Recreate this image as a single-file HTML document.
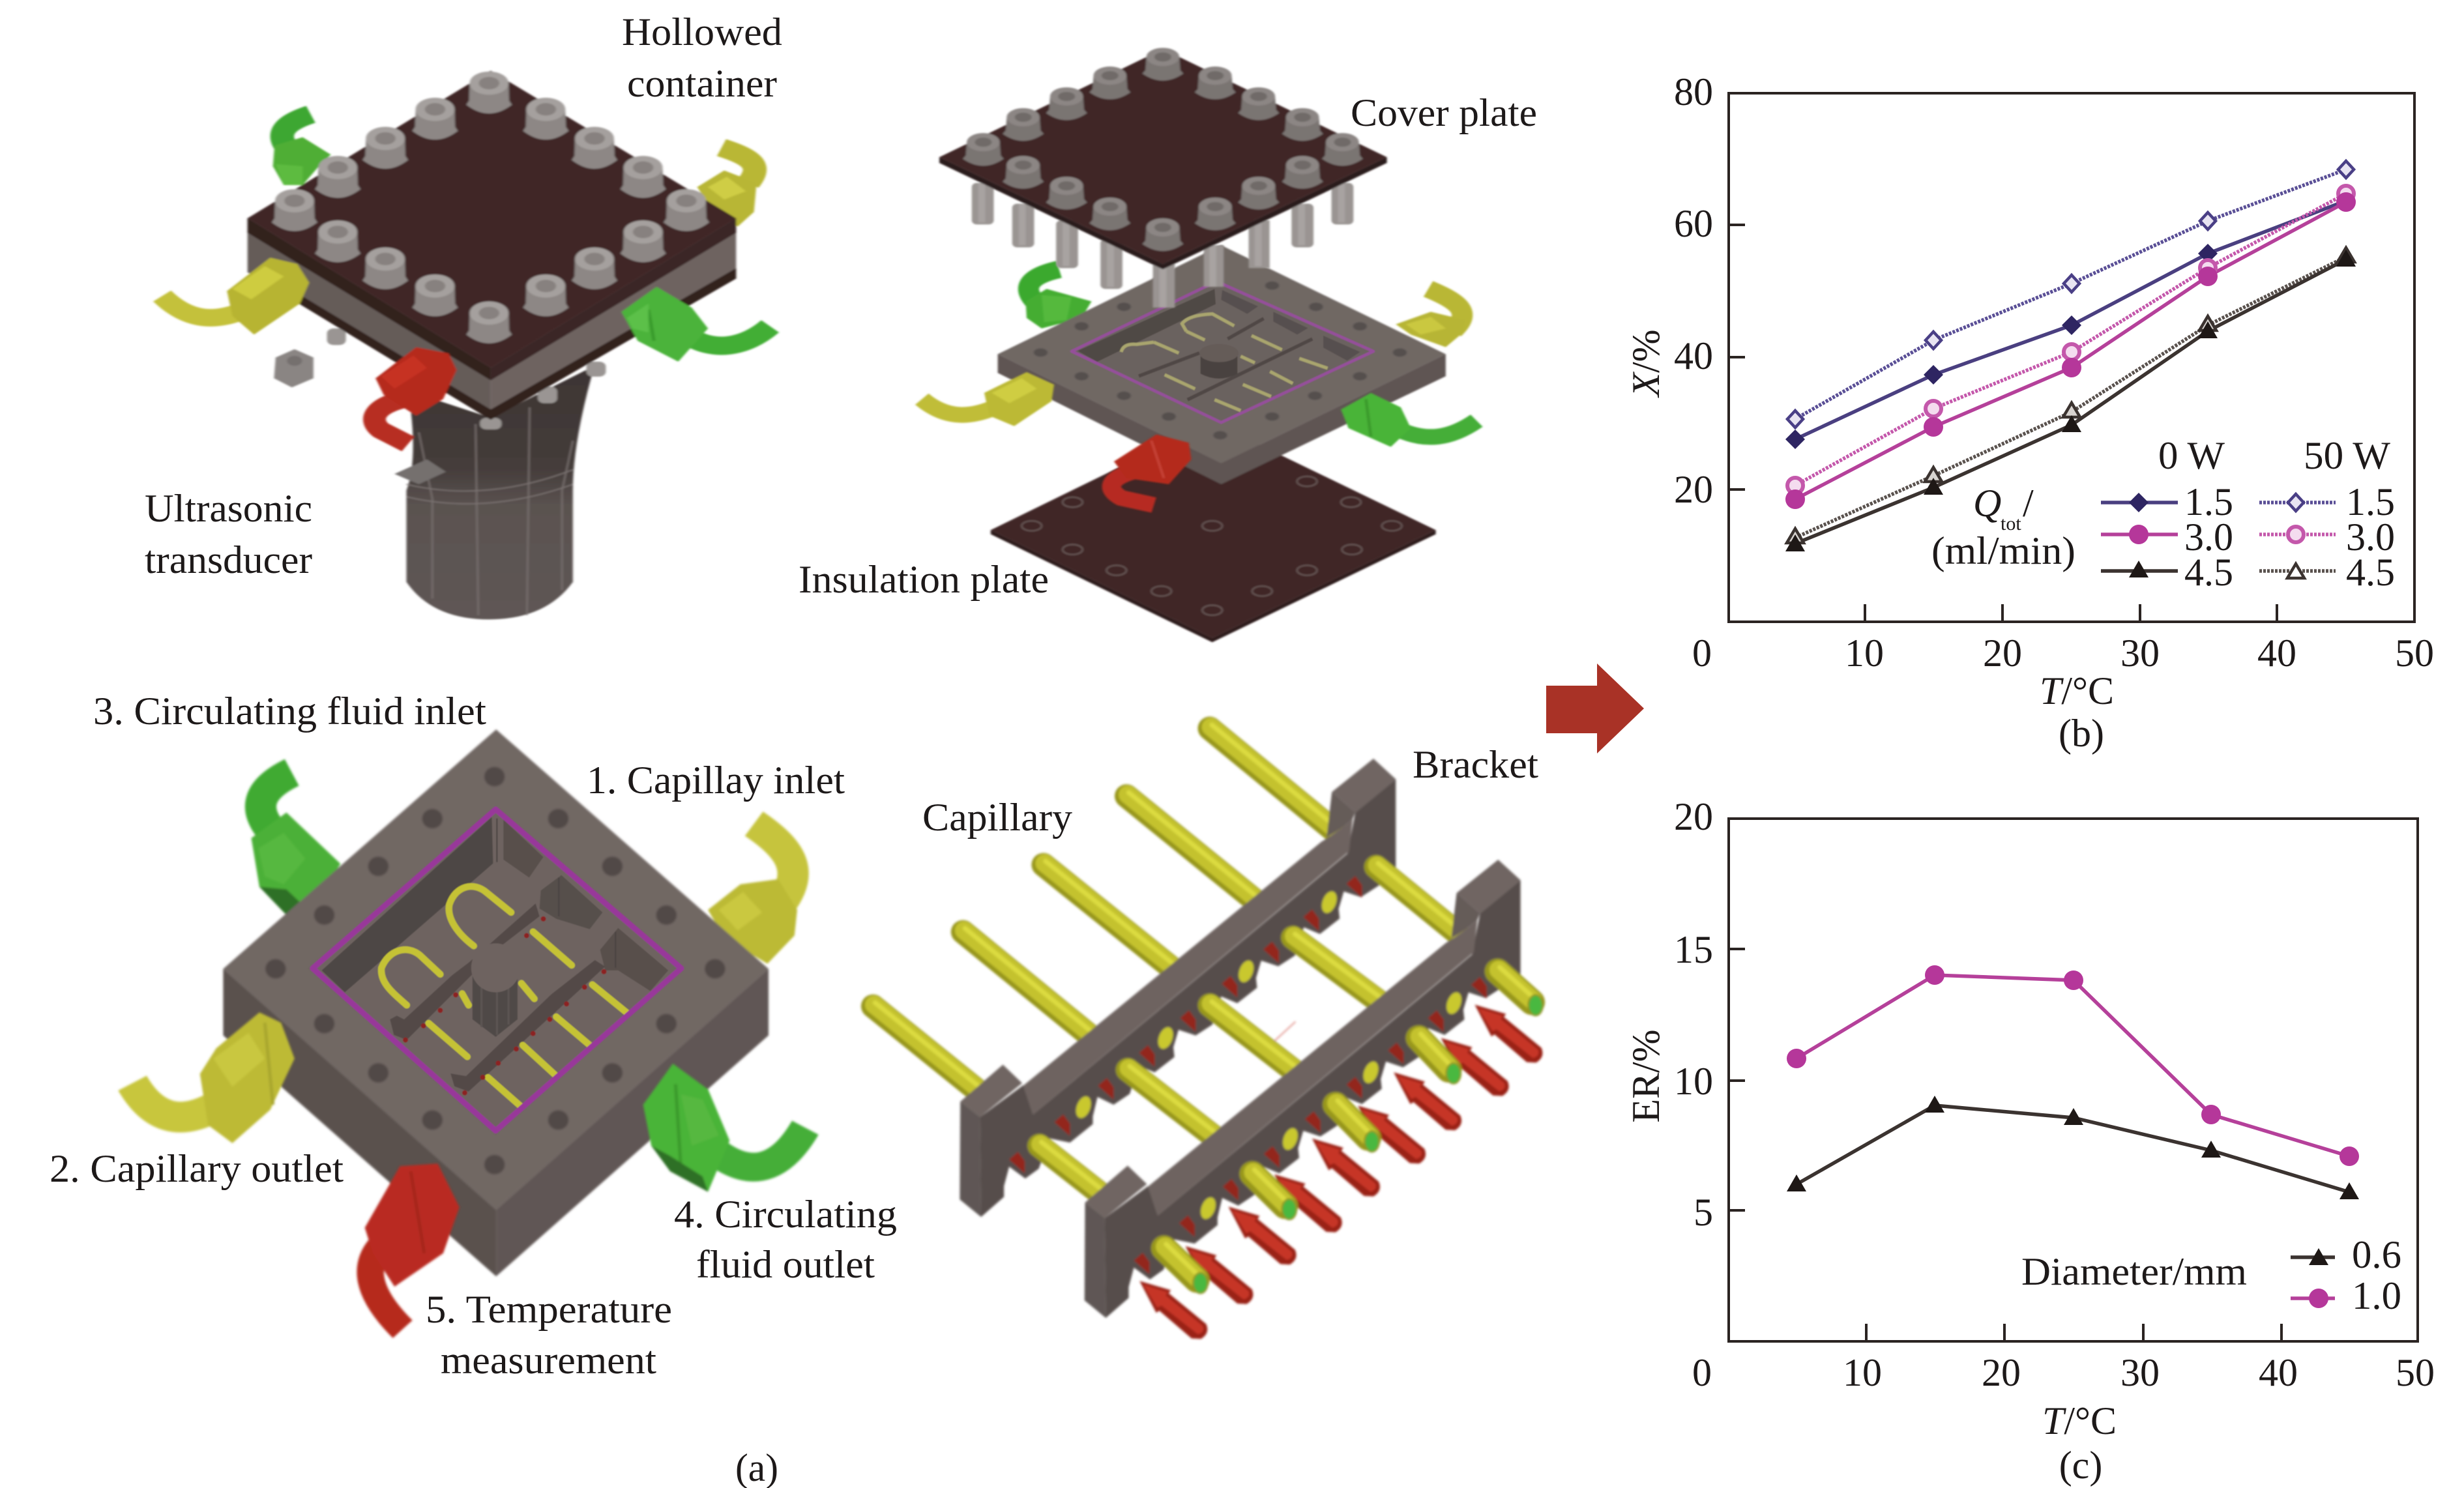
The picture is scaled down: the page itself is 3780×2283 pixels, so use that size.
<!DOCTYPE html>
<html><head><meta charset="utf-8"><style>
html,body{margin:0;padding:0;background:#fff}
svg{display:block}
text{font-family:"Liberation Serif","DejaVu Serif",serif;font-size:60px;fill:#1d1919}
.i{font-style:italic}
</style></head><body>
<svg xmlns="http://www.w3.org/2000/svg" width="3780" height="2283" viewBox="0 0 3780 2283">
<defs>
<filter id="b" x="-5%" y="-5%" width="110%" height="110%"><feGaussianBlur stdDeviation="2.2"/></filter>
<linearGradient id="tg" x1="0" y1="0" x2="0" y2="1"><stop offset="0" stop-color="#3d3533"/><stop offset=".4" stop-color="#443c3a"/><stop offset=".55" stop-color="#5a5250"/><stop offset="1" stop-color="#5e5654"/></linearGradient>
<g id="bolt"><path d="M-36,-22 L-37,20 L-42,30 Q0,72 42,30 L37,20 L36,-22Z" fill="#8d8785"/><ellipse cx="0" cy="-22" rx="36" ry="28" fill="#a5a09e"/><ellipse cx="0" cy="-22" rx="19" ry="15" fill="#87817f"/></g>
<g id="bolt2"><path d="M-33,-18 L-35,14 L-41,22 Q0,56 41,22 L35,14 L33,-18Z" fill="#7a7472"/><ellipse cx="0" cy="-18" rx="33" ry="22" fill="#8c8684"/><ellipse cx="0" cy="-18" rx="17" ry="11" fill="#6f6a68"/></g>
<g id="arr"><path d="M0,0 L60,18 L56,24 L128,84 Q136,102 118,113 L100,112 L38,58 L32,62 Z" fill="#9a2318"/><path d="M7,7 L54,22 L50,28 L122,88 Q126,100 112,104 L42,48 L34,52 Z" fill="#c63426"/></g>
<g id="bar">
<path d="M401,782 L420,839 L1025,330 L1040,250 L1118,185 L1118,370 L1083,394 L1051,415 L1018,404 L1008,438 L1010,457 L972,487 L941,474 L924,529 L892,550 L859,539 L849,573 L851,592 L813,622 L782,609 L765,664 L733,685 L700,674 L690,708 L692,727 L654,757 L623,744 L606,799 L575,820 L544,805 L535,843 L535,858 L491,894 L452,886 L431,945 L405,964 L374,941 L364,979 L364,1000 L320,1039 L318,844 Z" fill="#564e4b"/>
<path d="M280,814 L318,844 L320,1039 L279,1005Z" fill="#5f5754"/>
<path d="M280,814 L362,742 L399,778 L318,844Z" fill="#6f6562"/>
<path d="M401,783 L975,307 Q1010,285 1035,262 L1028,326 L420,839Z" fill="#6e6461"/>
<path d="M995,210 L1075,145 L1118,185 L1040,250Z" fill="#6f6562"/>
<path d="M995,210 L1040,250 L1035,262 Q1010,285 985,298Z" fill="#655c59"/>
<path d="M374,927 l17,-15 l13,18 l0,24z M461,854 l17,-15 l13,18 l0,24z M545,783 l17,-15 l13,18 l0,24z M624,719 l17,-15 l13,18 l0,24z M703,651 l17,-15 l13,18 l0,24z M783,584 l17,-15 l13,18 l0,24z M863,517 l17,-15 l13,18 l0,24z M940,454 l17,-15 l13,18 l0,24z M1023,389 l17,-15 l13,18 l0,24z" fill="#93261c"/>
<g fill="#c9c82f"><ellipse cx="517" cy="825" rx="13" ry="22" transform="rotate(20 517 825)"/><ellipse cx="675" cy="690" rx="13" ry="22" transform="rotate(20 675 690)"/><ellipse cx="830" cy="560" rx="13" ry="22" transform="rotate(20 830 560)"/><ellipse cx="990" cy="425" rx="13" ry="22" transform="rotate(20 990 425)"/></g>
</g>
</defs>

<!-- TOP LEFT ASSEMBLY -->
<g transform="scale(.8291,.6378)" filter="url(#b)">
<path d="M755,940 Q775,1100 752,1180 L752,1400 Q800,1490 905,1490 Q1010,1490 1060,1400 L1060,1180 Q1060,1060 1100,880 L908,1005Z" fill="url(#tg)"/>
<g stroke="#7d7573" stroke-width="2.5" fill="none"><path d="M775,1040 L800,1200 L800,1440"/><path d="M880,1020 L885,1480"/><path d="M980,980 L975,1480"/><path d="M1060,1060 L1040,1180 L1040,1420"/><path d="M752,1165 Q900,1210 1060,1130"/><path d="M752,1195 Q900,1240 1060,1165"/></g>
<path d="M730,1140 L790,1105 L825,1135 L775,1165Z" fill="#75706e"/>
<g fill="#9a9593"><rect x="605" y="790" width="35" height="40" rx="12"/><rect x="888" y="1005" width="40" height="28" rx="12"/><rect x="995" y="930" width="36" height="40" rx="12"/><rect x="1085" y="870" width="36" height="36" rx="12"/></g>
<path d="M510,860 L545,840 L580,860 L580,910 L540,932 L507,910Z" fill="#8a8583"/><ellipse cx="545" cy="868" rx="14" ry="12" fill="#75706e"/>
<!-- back fittings -->
<path d="M575,275 C515,300 510,330 540,370" stroke="#3ea732" stroke-width="44" fill="none"/>
<path d="M508,350 L560,330 L612,372 L590,400 L560,445 L525,445 L505,400Z" fill="#4fae35"/><path d="M510,395 L560,400 L560,445 L525,445Z" fill="#5dbb40"/>
<path d="M1335,355 C1395,380 1410,400 1385,440" stroke="#b9b735" stroke-width="44" fill="none"/>
<path d="M1290,450 L1340,410 L1400,440 L1395,510 L1365,545 L1310,490Z" fill="#b8b634"/><path d="M1310,450 L1345,425 L1380,460 L1340,480Z" fill="#cfcd44"/>
<!-- plate -->
<path d="M458,525 L908,885 L908,1010 L458,655Z" fill="#655b58"/>
<path d="M1362,525 L908,885 L908,1010 L1362,670Z" fill="#6e6461"/>
<path d="M458,525 L908,885 L908,915 L458,560Z" fill="#33201f"/>
<path d="M1362,525 L908,885 L908,915 L1362,560Z" fill="#3b2526"/>
<path d="M550,728 L908,1010 L1362,670 L1362,645 L908,985 L550,705Z" fill="#33201f"/>
<path d="M458,525 L908,170 L1362,525 L908,885Z" fill="#3f2628"/>
<use href="#bolt" x="905" y="222"/><use href="#bolt" x="805" y="285"/><use href="#bolt" x="1010" y="285"/><use href="#bolt" x="713" y="355"/><use href="#bolt" x="1100" y="355"/><use href="#bolt" x="625" y="425"/><use href="#bolt" x="1190" y="425"/><use href="#bolt" x="545" y="505"/><use href="#bolt" x="1270" y="505"/><use href="#bolt" x="625" y="580"/><use href="#bolt" x="1190" y="580"/><use href="#bolt" x="713" y="645"/><use href="#bolt" x="1100" y="645"/><use href="#bolt" x="805" y="710"/><use href="#bolt" x="1010" y="710"/><use href="#bolt" x="905" y="775"/>
<!-- front fittings -->
<path d="M300,712 C350,775 400,775 455,745" stroke="#c4c13a" stroke-width="42" fill="none"/>
<path d="M420,700 L500,620 L550,635 L572,680 L555,730 L470,805 L430,760Z" fill="#b7b432"/><path d="M430,695 L490,640 L525,665 L465,720Z" fill="#cecc3f"/>
<path d="M1270,805 C1320,850 1380,835 1425,785" stroke="#43ae36" stroke-width="44" fill="none"/>
<path d="M1150,750 L1215,690 L1280,740 L1310,790 L1255,870 L1180,820Z" fill="#4bb33a"/><path d="M1200,745 L1210,820" stroke="#399a2c" stroke-width="6"/><path d="M1160,765 L1200,730 L1200,800 L1170,790Z" fill="#5cc048"/>
<path d="M770,955 C690,970 680,1010 705,1035 L755,1068" stroke="#b72d20" stroke-width="42" fill="none"/>
<path d="M695,910 L770,835 L830,850 L845,890 L820,960 L770,1000 L710,950Z" fill="#b5291e"/><path d="M705,905 L765,855 L790,885 L730,935Z" fill="#c63024"/>
</g>

<!-- TOP RIGHT EXPLODED -->
<g transform="translate(1200,0) scale(.7653,.6378)" filter="url(#b)">
<path d="M418,1275 L862,1015 L1310,1275 L862,1535Z" fill="#3f2628"/>
<path d="M418,1275 L862,1535 L1310,1275 L1310,1285 L862,1545 L418,1285Z" fill="#2e1c1c"/>
<g fill="none" stroke="#6b5a58" stroke-width="3"><ellipse cx="1052" cy="1158" rx="20" ry="12"/><ellipse cx="1140" cy="1208" rx="20" ry="12"/><ellipse cx="1222" cy="1265" rx="20" ry="12"/><ellipse cx="1142" cy="1322" rx="20" ry="12"/><ellipse cx="1052" cy="1372" rx="20" ry="12"/><ellipse cx="962" cy="1422" rx="20" ry="12"/><ellipse cx="862" cy="1468" rx="20" ry="12"/><ellipse cx="760" cy="1422" rx="20" ry="12"/><ellipse cx="670" cy="1372" rx="20" ry="12"/><ellipse cx="582" cy="1322" rx="20" ry="12"/><ellipse cx="500" cy="1265" rx="20" ry="12"/><ellipse cx="582" cy="1208" rx="20" ry="12"/><ellipse cx="862" cy="1265" rx="20" ry="12"/></g>
<path d="M555,648 C490,665 480,695 510,730" stroke="#3ba92f" stroke-width="42" fill="none"/>
<path d="M488,725 L530,695 L620,725 L600,765 L520,790 L490,765Z" fill="#45ad33"/><path d="M520,710 L580,715 L570,770 L525,775Z" fill="#55b93c"/>
<path d="M1295,695 C1355,725 1385,750 1345,795" stroke="#b9b736" stroke-width="42" fill="none"/>
<path d="M1230,780 L1300,750 L1370,770 L1365,800 L1330,835 L1260,805Z" fill="#b7b536"/><path d="M1250,780 L1300,762 L1330,790 L1280,805Z" fill="#cac840"/>
<!-- block -->
<path d="M432,852 L880,1115 L880,1165 L432,897Z" fill="#5e5552"/>
<path d="M1330,852 L880,1115 L880,1165 L1330,905Z" fill="#5e5552"/>
<path d="M432,852 L880,590 L1330,852 L880,1115Z" fill="#706764"/>
<g fill="#55504d"><ellipse cx="685" cy="738" rx="14" ry="10"/><ellipse cx="600" cy="785" rx="14" ry="10"/><ellipse cx="518" cy="848" rx="14" ry="10"/><ellipse cx="600" cy="905" rx="14" ry="10"/><ellipse cx="685" cy="952" rx="14" ry="10"/><ellipse cx="775" cy="1002" rx="14" ry="10"/><ellipse cx="878" cy="1047" rx="14" ry="10"/><ellipse cx="982" cy="1002" rx="14" ry="10"/><ellipse cx="1068" cy="952" rx="14" ry="10"/><ellipse cx="1158" cy="905" rx="14" ry="10"/><ellipse cx="1238" cy="848" rx="14" ry="10"/><ellipse cx="1158" cy="785" rx="14" ry="10"/><ellipse cx="1070" cy="738" rx="14" ry="10"/><ellipse cx="982" cy="687" rx="14" ry="10"/></g>
</g>
<g transform="translate(1750,400) scale(.3333)" filter="url(#b)">
<path d="M-318,417 L348,95 L1071,417 L370,745Z" fill="#6b625f" stroke="#94509a" stroke-width="14" stroke-linejoin="round"/>
<path d="M-290,415 L340,130 L345,200 L-200,465Z" fill="#4f4845"/>
<g fill="#575050"><path d="M375,135 L540,210 L490,245 L370,180Z"/><path d="M610,235 L770,310 L720,340 L610,280Z"/><path d="M840,345 L1010,420 L950,460 L840,400Z"/></g>
<g stroke="#a9a56e" stroke-width="15" fill="none"><path d="M340,640 L460,690"/><path d="M470,570 L600,625"/><path d="M595,510 L700,565"/><path d="M730,450 L860,495"/><path d="M510,345 L650,410"/><path d="M460,440 L525,470"/><path d="M110,525 L250,590"/><path d="M60,375 L175,425"/><path d="M210,325 L295,365"/><path d="M430,300 L330,245 Q220,250 190,290 L210,325"/><path d="M-90,420 Q-80,380 -20,385 L60,375"/></g>
<g stroke="#4f4745" stroke-width="16" fill="none"><path d="M-9,531 L270,425"/><path d="M400,360 L566,266"/><path d="M215,640 L790,360"/></g>
<path d="M275,425 L275,520 Q360,565 445,520 L445,425Z" fill="#4a4240"/><ellipse cx="360" cy="425" rx="90" ry="42" fill="#655c59"/>
</g>
<g transform="translate(1200,0) scale(.7653,.6378)" filter="url(#b)">
<!-- fittings front -->
<path d="M280,960 C330,1010 380,1005 430,978" stroke="#c0bd38" stroke-width="38" fill="none"/>
<path d="M405,945 L490,895 L545,925 L540,965 L465,1025 L415,1000Z" fill="#bcb935"/><path d="M420,945 L480,910 L510,935 L455,970Z" fill="#cfcd42"/>
<path d="M1230,1030 C1290,1065 1340,1055 1392,1012" stroke="#45ae37" stroke-width="38" fill="none"/>
<path d="M1120,985 L1180,945 L1240,980 L1260,1030 L1220,1075 L1135,1030Z" fill="#4ab439"/><path d="M1170,960 L1180,1050" stroke="#3a9a2c" stroke-width="6"/>
<path d="M720,1130 C655,1145 645,1175 680,1198 L745,1215" stroke="#b62c20" stroke-width="38" fill="none"/>
<path d="M665,1110 L750,1045 L815,1065 L820,1105 L775,1165 L690,1150Z" fill="#b42b1f"/><path d="M740,1060 L765,1150" stroke="#c9463a" stroke-width="4"/>
<!-- shafts -->
<g fill="#9a9492"><rect x="380" y="440" width="44" height="100" rx="10"/><rect x="461" y="490" width="44" height="105" rx="10"/><rect x="549" y="530" width="44" height="115" rx="10"/><rect x="638" y="575" width="44" height="120" rx="10"/><rect x="743" y="630" width="44" height="110"/><rect x="845" y="590" width="40" height="100"/><rect x="935" y="530" width="42" height="115"/><rect x="1021" y="490" width="44" height="105" rx="10"/><rect x="1101" y="440" width="44" height="100" rx="10"/></g>
<g fill="#a8a3a1"><rect x="393" y="440" width="14" height="95"/><rect x="474" y="490" width="14" height="100"/><rect x="562" y="530" width="14" height="110"/><rect x="651" y="575" width="14" height="115"/><rect x="756" y="630" width="14" height="110"/><rect x="856" y="590" width="14" height="100"/><rect x="947" y="530" width="14" height="110"/><rect x="1034" y="490" width="14" height="100"/><rect x="1114" y="440" width="14" height="95"/></g>
<!-- cover -->
<path d="M315,378 L763,635 L1212,378 L1212,392 L763,648 L315,392Z" fill="#2c1b1b"/>
<path d="M315,378 L763,118 L1212,378 L763,635Z" fill="#3f2628"/>
<use href="#bolt2" x="763" y="155"/><use href="#bolt2" x="657" y="200"/><use href="#bolt2" x="868" y="200"/><use href="#bolt2" x="570" y="250"/><use href="#bolt2" x="955" y="250"/><use href="#bolt2" x="483" y="300"/><use href="#bolt2" x="1043" y="300"/><use href="#bolt2" x="403" y="360"/><use href="#bolt2" x="1123" y="360"/><use href="#bolt2" x="483" y="415"/><use href="#bolt2" x="1043" y="415"/><use href="#bolt2" x="570" y="465"/><use href="#bolt2" x="955" y="465"/><use href="#bolt2" x="657" y="515"/><use href="#bolt2" x="868" y="515"/><use href="#bolt2" x="763" y="565"/>
</g>

<!-- BOTTOM LEFT BLOCK -->
<g transform="translate(0,1050) scale(.8291,.7864)" filter="url(#b)">
<path d="M540,172 C475,205 465,245 510,295" stroke="#3faa32" stroke-width="58" fill="none"/>
<path d="M465,300 L530,250 L580,300 L630,350 L600,400 L530,450 L480,395Z" fill="#4cb038"/><path d="M478,320 L525,290 L565,340 L525,390 L490,375Z" fill="#56b83f"/><path d="M480,395 L530,450 L560,430 L530,400Z" fill="#2f6f26"/>
<path d="M1395,272 C1470,325 1490,370 1440,435" stroke="#c6c43c" stroke-width="58" fill="none"/>
<path d="M1310,440 L1370,390 L1440,380 L1475,440 L1470,490 L1420,545 L1340,495Z" fill="#bcba36"/><path d="M1330,440 L1375,405 L1410,445 L1365,480Z" fill="#cac841"/>
<path d="M413,555 L918,1025 L918,1155 L413,685Z" fill="#5a514e"/>
<path d="M1422,555 L918,1025 L918,1155 L1422,685Z" fill="#605754"/>
<path d="M413,555 L918,88 L1422,555 L918,1025Z" fill="#716764"/>
<g fill="#514946"><circle cx="915" cy="180" r="19"/><circle cx="800" cy="262" r="19"/><circle cx="1033" cy="262" r="19"/><circle cx="700" cy="355" r="19"/><circle cx="1133" cy="355" r="19"/><circle cx="600" cy="450" r="19"/><circle cx="1233" cy="450" r="19"/><circle cx="510" cy="555" r="19"/><circle cx="1323" cy="555" r="19"/><circle cx="600" cy="662" r="19"/><circle cx="1233" cy="662" r="19"/><circle cx="700" cy="758" r="19"/><circle cx="1133" cy="758" r="19"/><circle cx="800" cy="850" r="19"/><circle cx="1033" cy="850" r="19"/><circle cx="915" cy="937" r="19"/></g>
</g>
<g transform="translate(450,1220) scale(.3954)" filter="url(#b)">
<path d="M55,672 L785,40 L1520,672 L785,1320Z" fill="#6e6461"/>
<path d="M110,680 L770,85 L775,265 L200,765Z" fill="#4e4644"/>
<path d="M815,95 L970,240 L915,320 L815,250Z" fill="#594f4c"/><path d="M960,370 L1040,310 L1200,455 L1150,520 L1020,480 L955,440Z" fill="#574f4c"/><path d="M1190,600 L1260,515 L1455,680 L1385,760 L1260,680 L1210,680Z" fill="#594f4c"/>
<g stroke="#4a4340" stroke-width="5"><path d="M790,90 V260M1030,320 V470M1250,530 V670"/></g>
<path d="M375,870 L430,840 L680,650 L940,420 L955,470 L800,590 L690,700 L440,950 L390,930Z" fill="#524a47"/>
<path d="M610,1080 L660,1040 L1170,640 L1210,665 L680,1150 L625,1130Z" fill="#524a47"/>
<path d="M785,260 L940,400 L430,870 L350,830 L200,765Z" fill="#6e6461"/>
<path d="M1000,490 L1160,620 L670,1090 L610,1080 L780,880Z" fill="#6e6461"/>
<path d="M695,680 L695,870 L785,938 L870,870 L870,680Z" fill="#4f4846"/>
<path d="M730,720V900M790,740V930M835,720V890" stroke="#5c5452" stroke-width="8"/>
<ellipse cx="785" cy="670" rx="95" ry="95" fill="#6e6461"/>
<g stroke="#c5c235" stroke-width="26" fill="none" stroke-linecap="round"><path d="M845,455 L750,378 C700,335 630,350 605,425 C595,480 640,540 700,585"/><path d="M570,695 L490,620 C440,580 370,600 342,670 C335,730 390,770 440,815"/><path d="M525,885 L675,1015"/><path d="M755,1095 L880,1205"/><path d="M890,970 L1015,1085"/><path d="M1020,860 L1150,970"/><path d="M1160,735 L1295,845"/><path d="M930,530 L1080,660"/><path d="M885,730 L935,790"/><path d="M655,770 L680,815"/></g>
<g fill="#8c2020"><circle cx="970" cy="480" r="10"/><circle cx="905" cy="545" r="10"/><circle cx="630" cy="775" r="10"/><circle cx="570" cy="835" r="10"/><circle cx="505" cy="895" r="10"/><circle cx="435" cy="950" r="10"/><circle cx="1205" cy="685" r="10"/><circle cx="1130" cy="745" r="10"/><circle cx="1060" cy="810" r="10"/><circle cx="995" cy="870" r="10"/><circle cx="930" cy="925" r="10"/><circle cx="865" cy="985" r="10"/><circle cx="795" cy="1040" r="10"/><circle cx="735" cy="1095" r="10"/><circle cx="665" cy="1155" r="10"/></g>
<path d="M75,672 L785,55 L1505,672 L785,1302Z" fill="none" stroke="#98399a" stroke-width="22" stroke-linejoin="round"/>
</g>
<g transform="translate(0,1050) scale(.8291,.7864)" filter="url(#b)">
<path d="M245,778 C290,860 350,860 420,810" stroke="#c8c63c" stroke-width="60" fill="none"/>
<path d="M370,760 L400,710 L480,640 L520,660 L545,730 L500,830 L430,895 L385,860Z" fill="#bdba35"/><path d="M395,730 L460,680 L490,730 L430,785Z" fill="#c9c741"/><path d="M490,660 L505,820" stroke="#a8a62e" stroke-width="6"/>
<path d="M1310,900 C1380,965 1440,955 1490,865" stroke="#45ae37" stroke-width="56" fill="none"/>
<path d="M1190,820 L1245,740 L1310,790 L1350,890 L1310,990 L1240,950 L1205,900Z" fill="#4ab439"/><path d="M1250,780 L1260,945" stroke="#3a9a2c" stroke-width="6"/><path d="M1205,900 L1240,950 L1310,990 L1300,960 L1240,920Z" fill="#2f6f26"/><path d="M1260,800 L1300,810 L1330,880 L1280,900Z" fill="#56b83f"/>
<path d="M715,1085 C665,1130 680,1190 745,1258" stroke="#b62b1f" stroke-width="50" fill="none"/>
<path d="M675,1060 L740,940 L810,935 L850,1020 L820,1110 L730,1175 L690,1110Z" fill="#b92c20"/><path d="M760,950 L785,1110" stroke="#a4281d" stroke-width="6"/>
</g>

<!-- BOTTOM RIGHT BRACKET -->
<g transform="translate(1250,1050) scale(.7972,.7864)" filter="url(#b)">
<g fill="none" stroke-linecap="round">
<g stroke="#98971e" stroke-width="46"><path d="M112,628 L310,790"/><path d="M285,483 L530,686"/><path d="M440,352 L690,556"/><path d="M600,218 L850,424"/><path d="M760,86 L1000,286"/></g>
<g stroke="#c4c22e" stroke-width="35"><path d="M114,625 L312,787"/><path d="M287,480 L532,683"/><path d="M442,349 L692,553"/><path d="M602,215 L852,421"/><path d="M762,83 L1002,283"/></g>
<g stroke="#dcdb40" stroke-width="9"><path d="M116,621 L314,783"/><path d="M289,476 L534,679"/><path d="M444,345 L694,549"/><path d="M604,211 L854,417"/><path d="M764,79 L1004,279"/></g>
</g>
<path d="M880,700 L925,658" stroke="#e6a6a0" stroke-width="3"/>
<use href="#bar"/>
<g fill="none" stroke-linecap="round">
<g stroke="#98971e" stroke-width="46"><path d="M432,900 L550,994"/><path d="M602,752 L770,884"/><path d="M760,626 L930,760"/><path d="M920,494 L1090,622"/><path d="M1080,356 L1235,484"/></g>
<g stroke="#c4c22e" stroke-width="35"><path d="M434,897 L552,991"/><path d="M604,749 L772,881"/><path d="M762,623 L932,757"/><path d="M922,491 L1092,619"/><path d="M1082,353 L1237,481"/></g>
<g stroke="#dcdb40" stroke-width="9"><path d="M436,893 L554,987"/><path d="M606,745 L774,877"/><path d="M764,619 L934,753"/><path d="M924,487 L1094,615"/><path d="M1084,349 L1239,477"/></g>
</g>
<use href="#bar" x="240" y="197"/>
<use href="#arr" x="713" y="1096"/><use href="#arr" x="884" y="956"/><use href="#arr" x="1045" y="822"/><use href="#arr" x="1205" y="690"/>
<g fill="none" stroke-linecap="round">
<g stroke="#98971e" stroke-width="50"><path d="M672,1100 L735,1162"/><path d="M842,955 L905,1018"/><path d="M1002,820 L1065,885"/><path d="M1162,690 L1220,752"/><path d="M1314,560 L1380,620"/></g>
<g stroke="#c4c22e" stroke-width="36"><path d="M674,1097 L737,1159"/><path d="M844,952 L907,1015"/><path d="M1004,817 L1067,882"/><path d="M1164,687 L1222,749"/><path d="M1316,557 L1382,617"/></g>
<g stroke="#dcdb40" stroke-width="9"><path d="M676,1092 L739,1154"/><path d="M846,947 L909,1010"/><path d="M1006,812 L1069,877"/><path d="M1166,682 L1224,744"/><path d="M1318,552 L1384,612"/></g>
</g>
<g fill="#4ab83f" stroke="#8f9120" stroke-width="3"><ellipse cx="742" cy="1168" rx="14" ry="20"/><ellipse cx="913" cy="1024" rx="14" ry="20"/><ellipse cx="1072" cy="892" rx="14" ry="20"/><ellipse cx="1229" cy="759" rx="14" ry="20"/><ellipse cx="1387" cy="626" rx="14" ry="20"/></g>
<use href="#arr" x="625" y="1164"/><use href="#arr" x="796" y="1019"/><use href="#arr" x="957" y="886"/><use href="#arr" x="1114" y="757"/><use href="#arr" x="1270" y="625"/>
</g>

<!-- BIG ARROW -->
<path d="M2372,1052 L2450,1052 L2450,1018 L2522,1087 L2450,1156 L2450,1125 L2372,1125Z" fill="#a93226"/>

<!-- LEFT LABELS -->
<text x="954" y="69" textLength="246" lengthAdjust="spacingAndGlyphs">Hollowed</text>
<text x="962" y="148" textLength="230" lengthAdjust="spacingAndGlyphs">container</text>
<text x="222" y="800" textLength="257" lengthAdjust="spacingAndGlyphs">Ultrasonic</text>
<text x="222" y="879" textLength="257" lengthAdjust="spacingAndGlyphs">transducer</text>
<text x="1225" y="909" textLength="384" lengthAdjust="spacingAndGlyphs">Insulation plate</text>
<text x="2072" y="193" textLength="286" lengthAdjust="spacingAndGlyphs">Cover plate</text>
<text x="143" y="1111" textLength="603" lengthAdjust="spacingAndGlyphs">3. Circulating fluid inlet</text>
<text x="900" y="1217" textLength="396" lengthAdjust="spacingAndGlyphs">1. Capillay inlet</text>
<text x="76" y="1813" textLength="451" lengthAdjust="spacingAndGlyphs">2. Capillary outlet</text>
<text x="1034" y="1883" textLength="342" lengthAdjust="spacingAndGlyphs">4. Circulating</text>
<text x="1068" y="1960" textLength="274" lengthAdjust="spacingAndGlyphs">fluid outlet</text>
<text x="653" y="2029" textLength="378" lengthAdjust="spacingAndGlyphs">5. Temperature</text>
<text x="676" y="2107" textLength="331" lengthAdjust="spacingAndGlyphs">measurement</text>
<text x="1128" y="2272" textLength="66" lengthAdjust="spacingAndGlyphs">(a)</text>
<text x="1415" y="1274" textLength="230" lengthAdjust="spacingAndGlyphs">Capillary</text>
<text x="2167" y="1193" textLength="193" lengthAdjust="spacingAndGlyphs">Bracket</text>

<!-- CHART B -->
<rect x="2652" y="143" width="1052" height="811" fill="none" stroke="#2b2422" stroke-width="4"/>
<g stroke="#2b2422" stroke-width="4"><path d="M2652,345H2677M2652,548H2677M2652,751H2677M2861,954V927M3072,954V927M3283,954V927M3493,954V927"/></g>
<g text-anchor="end"><text x="2628" y="161">80</text><text x="2628" y="363">60</text><text x="2628" y="566">40</text><text x="2628" y="771">20</text></g>
<g text-anchor="middle"><text x="2611" y="1022">0</text><text x="2860" y="1022">10</text><text x="3072" y="1022">20</text><text x="3283" y="1022">30</text><text x="3493" y="1022">40</text><text x="3704" y="1022">50</text></g>
<text x="3186" y="1080" text-anchor="middle"><tspan class="i">T</tspan>/°C</text>
<text x="3193" y="1145" text-anchor="middle">(b)</text>
<text transform="translate(2545,557) rotate(-90)" text-anchor="middle"><tspan class="i">X</tspan>/%</text>

<g fill="none" stroke-width="5.5">
<polyline points="2754,643 2966,522 3178,435 3387,339 3599,260" stroke="#5a4f96" stroke-dasharray="4 2"/>
<polyline points="2754,674 2966,575 3178,499 3387,389 3599,308" stroke="#4a3f80"/>
<polyline points="2754,745 2966,627 3178,540 3387,411 3599,297" stroke="#c458ab" stroke-dasharray="4 2"/>
<polyline points="2754,766 2966,655 3178,564 3387,424 3599,310" stroke="#b5409a"/>
<polyline points="2754,825 2966,730 3178,632 3387,499 3599,394" stroke="#5a524e" stroke-dasharray="4 2"/>
<polyline points="2754,834 2966,748 3178,652 3387,508 3599,398" stroke="#3b3330"/>
</g>
<g fill="#e8e4f2" stroke="#4a3f86" stroke-width="4.5"><path d="M2754,630l12,13l-12,13l-12,-13Z"/><path d="M2966,509l12,13l-12,13l-12,-13Z"/><path d="M3178,422l12,13l-12,13l-12,-13Z"/><path d="M3387,326l12,13l-12,13l-12,-13Z"/><path d="M3599,247l12,13l-12,13l-12,-13Z"/></g>
<g fill="#2e2562"><path d="M2754,659l15,15l-15,15l-15,-15Z"/><path d="M2966,560l15,15l-15,15l-15,-15Z"/><path d="M3178,484l15,15l-15,15l-15,-15Z"/><path d="M3387,374l15,15l-15,15l-15,-15Z"/><path d="M3599,293l15,15l-15,15l-15,-15Z"/></g>
<g fill="#f4dcef" stroke="#c458ab" stroke-width="6"><circle cx="2754" cy="745" r="12"/><circle cx="2966" cy="627" r="12"/><circle cx="3178" cy="540" r="12"/><circle cx="3387" cy="411" r="12"/><circle cx="3599" cy="297" r="12"/></g>
<g fill="#b5379a"><circle cx="2754" cy="766" r="15"/><circle cx="2966" cy="655" r="15"/><circle cx="3178" cy="564" r="15"/><circle cx="3387" cy="424" r="15"/><circle cx="3599" cy="310" r="15"/></g>
<g fill="#d8d4d0" stroke="#3b3330" stroke-width="4.5"><path d="M2754,811l13,22h-26Z"/><path d="M2966,717l13,22h-26Z"/><path d="M3178,618l13,22h-26Z"/><path d="M3387,485l13,22h-26Z"/><path d="M3599,380l13,22h-26Z"/></g>
<g fill="#1e1816"><path d="M2754,820l15,26h-30Z"/><path d="M2966,733l15,26h-30Z"/><path d="M3178,637l15,26h-30Z"/><path d="M3387,493l15,26h-30Z"/><path d="M3599,383l15,26h-30Z"/></g>
<!-- legend b -->
<text x="3311" y="719" textLength="102" lengthAdjust="spacingAndGlyphs">0 W</text>
<text x="3534" y="719" textLength="133" lengthAdjust="spacingAndGlyphs">50 W</text>
<text x="3027" y="792" class="i">Q</text><text x="3069" y="813" style="font-size:30px">tot</text><text x="3103" y="792">/</text>
<text x="2963" y="865" textLength="221" lengthAdjust="spacingAndGlyphs">(ml/min)</text>
<g fill="none" stroke-width="5.5">
<path d="M3223,771H3341" stroke="#4a3f80"/><path d="M3223,820H3341" stroke="#b5409a"/><path d="M3223,876H3341" stroke="#3b3330"/>
<path d="M3466,771H3583" stroke="#5a4f96" stroke-dasharray="4 2"/><path d="M3466,820H3583" stroke="#c458ab" stroke-dasharray="4 2"/><path d="M3466,876H3583" stroke="#5a524e" stroke-dasharray="4 2"/>
</g>
<path d="M3281,756l15,15l-15,15l-15,-15Z" fill="#2e2562"/><circle cx="3281" cy="820" r="15" fill="#b5379a"/><path d="M3281,860l15,26h-30Z" fill="#1e1816"/>
<path d="M3522,758l12,13l-12,13l-12,-13Z" fill="#e8e4f2" stroke="#4a3f86" stroke-width="4.5"/><circle cx="3522" cy="820" r="12" fill="#f4dcef" stroke="#c458ab" stroke-width="6"/><path d="M3522,865l13,22h-26Z" fill="#fff" stroke="#3b3330" stroke-width="4.5"/>
<text x="3351" y="790">1.5</text><text x="3351" y="844">3.0</text><text x="3351" y="898">4.5</text>
<text x="3599" y="790">1.5</text><text x="3599" y="844">3.0</text><text x="3599" y="898">4.5</text>

<!-- CHART C -->
<rect x="2652" y="1256" width="1057" height="802" fill="none" stroke="#2b2422" stroke-width="4"/>
<g stroke="#2b2422" stroke-width="4"><path d="M2652,1456H2677M2652,1658H2677M2652,1857H2677M2863,2058V2031M3075,2058V2031M3288,2058V2031M3500,2058V2031"/></g>
<g text-anchor="end"><text x="2628" y="1273">20</text><text x="2628" y="1477">15</text><text x="2628" y="1679">10</text><text x="2628" y="1880">5</text></g>
<g text-anchor="middle"><text x="2611" y="2126">0</text><text x="2857" y="2126">10</text><text x="3070" y="2126">20</text><text x="3283" y="2126">30</text><text x="3495" y="2126">40</text><text x="3705" y="2126">50</text></g>
<text x="3190" y="2200" text-anchor="middle"><tspan class="i">T</tspan>/°C</text>
<text x="3192" y="2268" text-anchor="middle">(c)</text>
<text transform="translate(2545,1651) rotate(-90)" text-anchor="middle">ER/%</text>
<polyline points="2756,1624 2968,1496 3181,1504 3392,1710 3604,1774" fill="none" stroke="#b5409a" stroke-width="5.5"/>
<polyline points="2756,1817 2968,1696 3181,1715 3392,1765 3604,1829" fill="none" stroke="#3b3330" stroke-width="5.5"/>
<g fill="#b5379a"><circle cx="2756" cy="1624" r="15"/><circle cx="2968" cy="1496" r="15"/><circle cx="3181" cy="1504" r="15"/><circle cx="3392" cy="1710" r="15"/><circle cx="3604" cy="1774" r="15"/></g>
<g fill="#1e1816"><path d="M2756,1802l15,26h-30Z"/><path d="M2968,1681l15,26h-30Z"/><path d="M3181,1700l15,26h-30Z"/><path d="M3392,1750l15,26h-30Z"/><path d="M3604,1814l15,26h-30Z"/></g>
<path d="M3514,1929H3582" stroke="#3b3330" stroke-width="5.5"/><path d="M3514,1992H3582" stroke="#b5409a" stroke-width="5.5"/>
<path d="M3557,1915l15,26h-30Z" fill="#1e1816"/><circle cx="3557" cy="1992" r="15" fill="#b5379a"/>
<text x="3608" y="1945" textLength="76" lengthAdjust="spacingAndGlyphs">0.6</text><text x="3608" y="2008" textLength="76" lengthAdjust="spacingAndGlyphs">1.0</text>
<text x="3101" y="1971" textLength="346" lengthAdjust="spacingAndGlyphs">Diameter/mm</text>
</svg>
</body></html>
